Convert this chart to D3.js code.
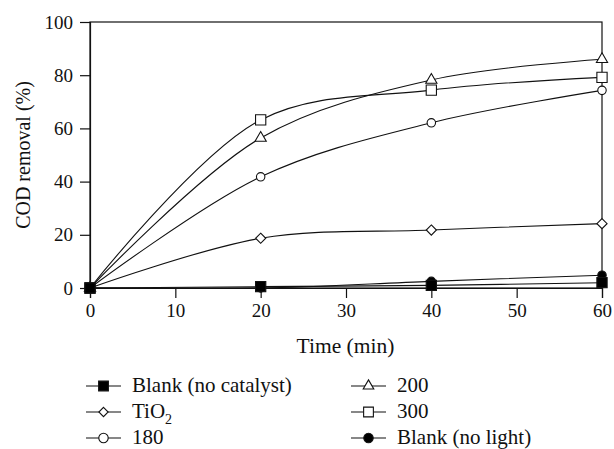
<!DOCTYPE html>
<html>
<head>
<meta charset="utf-8">
<script src="https://cdn.jsdelivr.net/npm/d3@7"></script>
<style>
  body { margin: 0; background: #fff; }
  text { font-family: "Liberation Serif", "DejaVu Serif", serif; fill: #111; }
</style>
</head>
<body>
<div id="chart"></div>
<script>
// data
var times = [0, 20, 40, 60];
var blankNoCat = [0, 0.5, 1, 2];
var tio2 = [0, 18.7, 21.8, 24.2];
var s180 = [0, 41.8, 62.1, 74.3];
var s200 = [0, 56.4, 78.2, 86];
var s300 = [0, 63.2, 74.4, 79.2];
var blankNoLight = [0, 0, 2.5, 4.8];
var xTicks = [0, 10, 20, 30, 40, 50, 60];
var yTicks = [0, 20, 40, 60, 80, 100];

var series = [
  {name: "Blank (no catalyst)", vals: blankNoCat, sym: "square", fill: "#000"},
  {name: "TiO2", vals: tio2, sym: "diamond", fill: "#fff"},
  {name: "180", vals: s180, sym: "circle", fill: "#fff"},
  {name: "200", vals: s200, sym: "triangle", fill: "#fff"},
  {name: "300", vals: s300, sym: "square", fill: "#fff"},
  {name: "Blank (no light)", vals: blankNoLight, sym: "circle", fill: "#000"}
];

var W = 614, H = 449;
var margin = {top: 22, right: 12, bottom: 161, left: 90},
    width = W - margin.left - margin.right,
    height = H - margin.top - margin.bottom;

var svg = d3.select("#chart").append("svg")
    .attr("width", W).attr("height", H);

var g = svg.append("g")
    .attr("transform", "translate(" + margin.left + "," + margin.top + ")");

var x = d3.scaleLinear().domain([0, 60]).range([0, width]);
var y = d3.scaleLinear().domain([0, 100]).range([height, 0]);

// frame
g.append("rect")
    .attr("width", width).attr("height", height)
    .attr("fill", "none").attr("stroke", "#111").attr("stroke-width", 1.2);

var xAxis = g.append("g")
    .attr("transform", "translate(0," + height + ")")
    .call(d3.axisBottom(x).tickValues(xTicks).tickSize(10).tickPadding(6));
var yAxis = g.append("g")
    .call(d3.axisLeft(y).tickValues(yTicks).tickSize(10).tickPadding(7));
[xAxis, yAxis].forEach(function (a) {
  a.select(".domain").attr("stroke", "#111").attr("stroke-width", 1.2);
  a.selectAll(".tick line").attr("stroke", "#111").attr("stroke-width", 1.2);
  a.selectAll("text").attr("font-size", 19).attr("font-family", "Liberation Serif").attr("fill", "#111");
});

svg.append("text")
    .attr("x", margin.left + width / 2 - 0.5).attr("y", 353)
    .attr("text-anchor", "middle").attr("font-size", 21.5)
    .text("Time (min)");
svg.append("text")
    .attr("transform", "translate(30," + (margin.top + height / 2) + ") rotate(-90)")
    .attr("text-anchor", "middle").attr("font-size", 20)
    .text("COD removal (%)");

var line = d3.line()
    .x(function (d, i) { return x(times[i]); })
    .y(function (d) { return y(d); })
    .curve(d3.curveCatmullRom.alpha(0.5));

function symPath(sym, s) {
  var types = {square: d3.symbolSquare, diamond: d3.symbolDiamond2, circle: d3.symbolCircle, triangle: d3.symbolTriangle2};
  return d3.symbol().type(types[sym]).size(s)();
}
var symSize = {square: 105, diamond: 66, circle: 56, triangle: 90};

series.forEach(function (s) {
  g.append("path")
      .datum(s.vals)
      .attr("d", line)
      .attr("fill", "none").attr("stroke", "#111").attr("stroke-width", 1.1);
});
// markers: filled square drawn last so it sits on top at t = 0
var drawOrder = [1, 2, 3, 4, 5, 0];
drawOrder.forEach(function (k) {
  var s = series[k];
  g.selectAll(null)
      .data(s.vals)
      .enter().append("path")
      .attr("transform", function (d, i) { return "translate(" + x(times[i]) + "," + y(d) + ")"; })
      .attr("d", symPath(s.sym, symSize[s.sym]))
      .attr("fill", s.fill).attr("stroke", "#111").attr("stroke-width", 1.1);
});

// legend
var legend = svg.append("g");
var legSize = {square: 95, diamond: 55, circle: 70, triangle: 80};
series.forEach(function (s, i) {
  var col = Math.floor(i / 3), row = i % 3;
  var lx = col === 0 ? 86 : 351, ly = 386 + row * 26;
  var item = legend.append("g").attr("transform", "translate(" + lx + "," + ly + ")");
  item.append("line").attr("x1", 0).attr("x2", 35).attr("y1", 0).attr("y2", 0)
      .attr("stroke", "#111").attr("stroke-width", 1.1);
  item.append("path").attr("transform", "translate(17.5,0)")
      .attr("d", symPath(s.sym, legSize[s.sym]))
      .attr("fill", s.fill).attr("stroke", "#111").attr("stroke-width", 1.1);
  var t = item.append("text").attr("x", 46).attr("y", 6).attr("font-size", 21);
  if (s.name === "TiO2") {
    t.text("TiO");
    t.append("tspan").attr("dy", 6).attr("font-size", 14).text("2");
  } else {
    t.text(s.name);
  }
});
</script>
</body>
</html>
